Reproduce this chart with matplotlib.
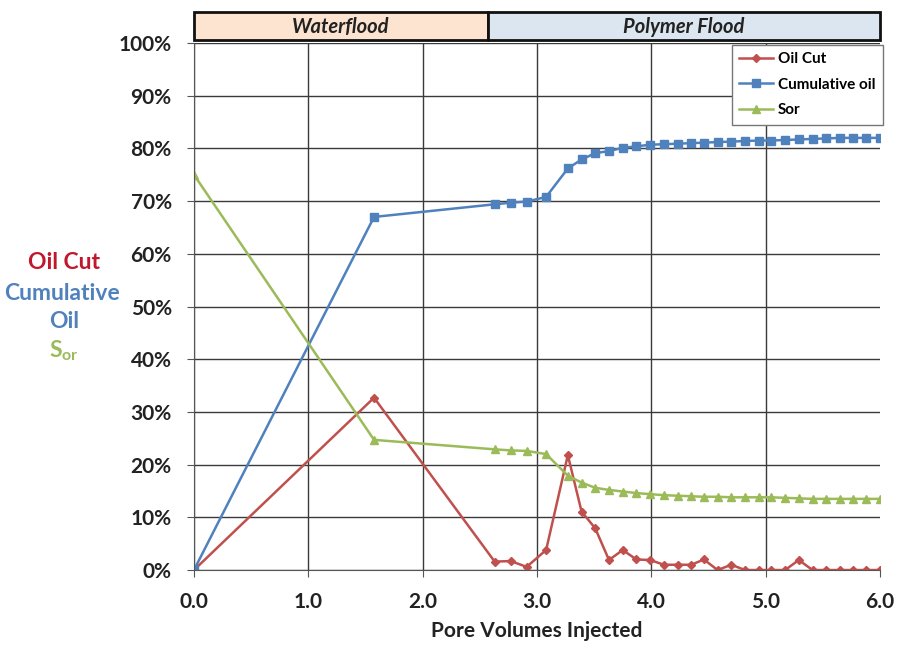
import matplotlib.pyplot as plt
from matplotlib.patches import Rectangle
from matplotlib.ticker import FuncFormatter

plt.rcParams['font.family'] = ['Lato', 'DejaVu Sans']

# pore volumes injected
pv = [0.0, 1.575, 2.63, 2.77, 2.91, 3.08, 3.27, 3.39, 3.51, 3.63, 3.75, 3.87,
      3.99, 4.11, 4.23, 4.35, 4.46, 4.58, 4.70, 4.82, 4.94, 5.05, 5.17, 5.29,
      5.41, 5.53, 5.65, 5.76, 5.88, 6.0]

# values in percent
oil_cut = [0.0, 32.7, 1.6, 1.7, 0.6, 3.8, 21.8, 11.1, 7.9, 1.9, 3.8, 2.0,
           1.9, 1.0, 1.0, 1.0, 2.0, 0.0, 1.0, 0.0, 0.0, 0.0, 0.0, 1.9,
           0.0, 0.0, 0.0, 0.0, 0.0, 0.0]
cum_oil = [0.0, 67.0, 69.4, 69.7, 69.9, 70.8, 76.2, 77.9, 79.1, 79.5, 80.1, 80.4,
           80.7, 80.8, 80.9, 81.0, 81.1, 81.2, 81.3, 81.4, 81.5, 81.5, 81.6, 81.7,
           81.8, 81.9, 82.0, 82.0, 82.0, 82.0]
sor = [75.0, 24.7, 22.9, 22.7, 22.6, 22.0, 17.9, 16.6, 15.6, 15.2, 14.9, 14.6,
       14.4, 14.2, 14.1, 14.0, 13.9, 13.9, 13.8, 13.8, 13.8, 13.8, 13.7, 13.6,
       13.5, 13.5, 13.5, 13.5, 13.5, 13.5]

phases = ['Waterflood', 'Polymer Flood']
phase_edges = [0.0, 2.57, 6.0]
phase_colors = ['#FCE4D0', '#DCE6F1']

red = '#C0504D'
blue = '#4F81BD'
green = '#9BBB59'

fig = plt.figure(figsize=(9.03, 6.46), dpi=100)
ax = fig.add_axes([0.2148, 0.1176, 0.7597, 0.8158])

ax.plot(pv, oil_cut, '-D', color=red, markersize=4, lw=1.8, label='Oil Cut')
ax.plot(pv, cum_oil, '-s', color=blue, markersize=6, lw=1.8, label='Cumulative oil')
ax.plot(pv, sor, '-^', color=green, markersize=6, lw=1.8, label='Sor')

ax.set_xlim(0, 6)
ax.set_ylim(0, 100)
ax.set_xticks([0, 1, 2, 3, 4, 5, 6])
ax.set_yticks(range(0, 101, 10))
ax.xaxis.set_major_formatter(FuncFormatter(lambda v, p: f'{v:.1f}'))
ax.yaxis.set_major_formatter(FuncFormatter(lambda v, p: f'{v:.0f}%'))
ax.tick_params(labelsize=15, length=5, color='#555555', pad=11, labelcolor='#222222')
for lbl in ax.get_xticklabels() + ax.get_yticklabels():
    lbl.set_fontweight('bold')
ax.grid(True, color='#3a3a3a', lw=1)
ax.get_xgridlines()[-1].set_visible(False)
ax.set_axisbelow(True)
for s in ['top', 'right']:
    ax.spines[s].set_visible(False)
ax.spines['left'].set_color('#555555')
ax.spines['bottom'].set_color('#555555')

ax.set_xlabel('Pore Volumes Injected', fontsize=15, fontweight='bold', labelpad=6,
              color='#222222')

leg = ax.legend(loc='upper right', bbox_to_anchor=(1.004, 0.997), borderaxespad=0,
                fancybox=False, edgecolor='#777777', framealpha=1, fontsize=11,
                handlelength=2.2, handletextpad=0.3, labelspacing=0.75, borderpad=0.5)
for t in leg.get_texts():
    t.set_fontweight('bold')

# phase banner above the plot
top = fig.add_axes([0.2148, 0.9381, 0.7597, 0.0433])
top.set_xlim(0, 6)
top.set_ylim(0, 1)
top.axis('off')
for i, name in enumerate(phases):
    x0, x1 = phase_edges[i], phase_edges[i + 1]
    top.add_patch(Rectangle((x0, 0), x1 - x0, 1, facecolor=phase_colors[i],
                            edgecolor='#111111', lw=2, clip_on=False))
    top.text((x0 + x1) / 2, 0.48, name, ha='center', va='center', fontsize=14.5,
             fontweight='bold', fontstyle='italic', color='#222222')

# left-hand axis title in series colours
fig.text(0.071, 0.593, 'Oil Cut', color='#C0172B', fontsize=16.5, fontweight='bold', ha='center', va='center')
fig.text(0.069, 0.546, 'Cumulative', color=blue, fontsize=16.5, fontweight='bold', ha='center', va='center')
fig.text(0.071, 0.503, 'Oil', color=blue, fontsize=16.5, fontweight='bold', ha='center', va='center')
fig.text(0.071, 0.458, r'S$_{\mathregular{or}}$', color=green, fontsize=16.5, fontweight='bold', ha='center', va='center')

fig.savefig('out.png', dpi=100)
